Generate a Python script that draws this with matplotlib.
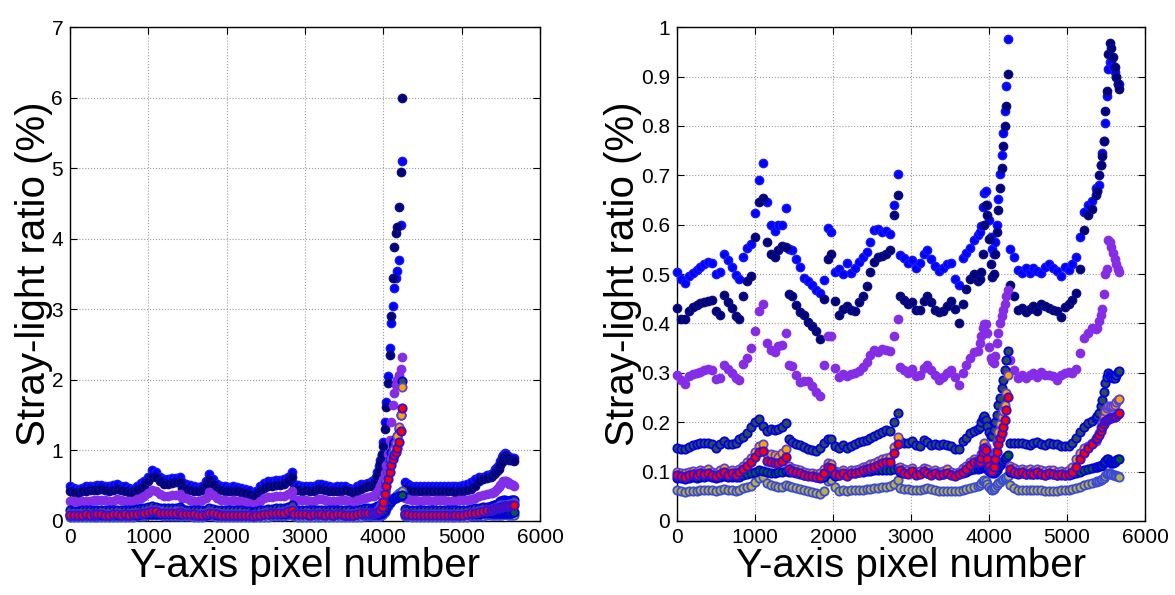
"""
Stray-light ratio along the Y-axis pixel number, two panels.

Left: full range (up to ~6 %), right: zoom on 0-1 %.
Each series is a band of dots; the detector has four segments so the
data have gaps near pixel 1415, 2845 and 4255.
"""

import matplotlib

matplotlib.use("Agg")
import matplotlib.pyplot as plt

plt.rcParams["font.family"] = ["Liberation Sans", "DejaVu Sans"]

# ---------------------------------------------------------------------------
# Sampling positions (pixel number), one list per detector segment.
# Steep parts (3880-4240 and 5390-5670) are sampled more finely.
# ---------------------------------------------------------------------------
SEG_X = [
    list(range(0, 1401, 50)),      # 29
    list(range(1430, 2831, 50)),   # 29
    list(range(2860, 3861, 50)),   # 21
    list(range(3880, 4241, 20)),   # 19
    list(range(4270, 5371, 50)),   # 23
    list(range(5390, 5671, 20)),   # 15
]
PIXEL = [x for seg in SEG_X for x in seg]

# ---------------------------------------------------------------------------
# Right panel (0-1 %)
# ---------------------------------------------------------------------------
R_BLUE = (
    [0.505, 0.490, 0.482, 0.497, 0.503, 0.509, 0.515, 0.520, 0.525, 0.522,
     0.500, 0.505, 0.540, 0.528, 0.515, 0.498, 0.490, 0.535, 0.552, 0.560,
     0.624, 0.690, 0.725, 0.645, 0.600, 0.587, 0.600, 0.600, 0.634]
    + [0.550, 0.548, 0.530, 0.515, 0.493, 0.485, 0.478, 0.468, 0.462, 0.488,
       0.594, 0.585, 0.505, 0.510, 0.500, 0.522, 0.503, 0.512, 0.525, 0.535,
       0.545, 0.565, 0.590, 0.592, 0.585, 0.588, 0.581, 0.640, 0.702]
    + [0.538, 0.532, 0.523, 0.529, 0.512, 0.522, 0.540, 0.548, 0.530, 0.516,
       0.507, 0.512, 0.520, 0.522, 0.490, 0.478, 0.532, 0.543, 0.553, 0.568,
       0.580]
    + [0.585, 0.597, 0.635, 0.665, 0.668, 0.640, 0.610, 0.575, 0.550, 0.540,
       0.565, 0.600, 0.651, 0.703, 0.742, 0.785, 0.830, 0.880, 0.975]
    + [0.550, 0.535, 0.509, 0.503, 0.513, 0.503, 0.513, 0.507, 0.503, 0.515,
       0.520, 0.513, 0.507, 0.497, 0.515, 0.509, 0.520, 0.535, 0.575, 0.625,
       0.640, 0.648, 0.675]
    + [0.668, 0.680, 0.720, 0.745, 0.770, 0.805, 0.860, 0.915, 0.930, 0.930,
       0.920, 0.910, 0.900, 0.885, 0.885]
)
R_NAVY = (
    [0.432, 0.410, 0.408, 0.425, 0.433, 0.438, 0.442, 0.443, 0.445, 0.447,
     0.426, 0.418, 0.458, 0.443, 0.432, 0.415, 0.410, 0.455, 0.485, 0.497,
     0.575, 0.645, 0.655, 0.565, 0.540, 0.535, 0.548, 0.556, 0.555]
    + [0.460, 0.455, 0.438, 0.424, 0.417, 0.402, 0.395, 0.385, 0.368, 0.450,
       0.530, 0.540, 0.445, 0.418, 0.430, 0.435, 0.428, 0.426, 0.444, 0.455,
       0.476, 0.505, 0.525, 0.534, 0.536, 0.540, 0.548, 0.620, 0.660]
    + [0.455, 0.448, 0.440, 0.444, 0.428, 0.428, 0.445, 0.455, 0.443, 0.428,
       0.423, 0.426, 0.436, 0.445, 0.430, 0.400, 0.440, 0.470, 0.490, 0.500,
       0.485]
    + [0.490, 0.505, 0.540, 0.600, 0.640, 0.620, 0.570, 0.520, 0.495, 0.500,
       0.540, 0.585, 0.630, 0.675, 0.715, 0.760, 0.800, 0.840, 0.905]
    + [0.478, 0.455, 0.427, 0.431, 0.423, 0.430, 0.436, 0.426, 0.440, 0.436,
       0.432, 0.428, 0.425, 0.414, 0.434, 0.440, 0.448, 0.462, 0.510, 0.590,
       0.620, 0.632, 0.660]
    + [0.668, 0.700, 0.720, 0.740, 0.770, 0.830, 0.870, 0.945, 0.968, 0.958,
       0.940, 0.920, 0.900, 0.885, 0.875]
)
R_PURPLE = (
    [0.296, 0.285, 0.277, 0.294, 0.298, 0.300, 0.302, 0.305, 0.308, 0.305,
     0.288, 0.290, 0.315, 0.308, 0.300, 0.290, 0.285, 0.318, 0.330, 0.350,
     0.385, 0.425, 0.440, 0.360, 0.347, 0.342, 0.354, 0.357, 0.381]
    + [0.315, 0.313, 0.295, 0.282, 0.283, 0.283, 0.273, 0.262, 0.254, 0.315,
       0.375, 0.375, 0.310, 0.292, 0.298, 0.293, 0.297, 0.300, 0.304, 0.312,
       0.322, 0.336, 0.347, 0.343, 0.348, 0.347, 0.345, 0.375, 0.410]
    + [0.312, 0.305, 0.300, 0.307, 0.294, 0.296, 0.310, 0.315, 0.305, 0.296,
       0.285, 0.292, 0.300, 0.306, 0.292, 0.275, 0.300, 0.315, 0.330, 0.342,
       0.345]
    + [0.360, 0.375, 0.390, 0.398, 0.398, 0.381, 0.352, 0.330, 0.323, 0.320,
       0.335, 0.360, 0.380, 0.400, 0.415, 0.427, 0.440, 0.455, 0.468]
    + [0.325, 0.305, 0.289, 0.296, 0.289, 0.295, 0.299, 0.292, 0.302, 0.295,
       0.296, 0.294, 0.286, 0.295, 0.300, 0.302, 0.299, 0.308, 0.340, 0.370,
       0.380, 0.390, 0.388]
    + [0.390, 0.405, 0.418, 0.430, 0.460, 0.500, 0.510, 0.568, 0.565, 0.555,
       0.542, 0.530, 0.520, 0.510, 0.505]
)
R_SLATE = (
    [0.148, 0.146, 0.145, 0.150, 0.153, 0.155, 0.157, 0.157, 0.158, 0.155,
     0.148, 0.155, 0.162, 0.155, 0.155, 0.158, 0.165, 0.170, 0.178, 0.190,
     0.200, 0.207, 0.192, 0.182, 0.187, 0.185, 0.186, 0.190, 0.198]
    + [0.167, 0.160, 0.155, 0.153, 0.150, 0.146, 0.143, 0.141, 0.148, 0.157,
       0.166, 0.165, 0.152, 0.147, 0.154, 0.148, 0.152, 0.155, 0.160, 0.162,
       0.164, 0.168, 0.172, 0.176, 0.180, 0.184, 0.182, 0.200, 0.218]
    + [0.161, 0.158, 0.157, 0.161, 0.153, 0.152, 0.163, 0.160, 0.154, 0.156,
       0.153, 0.156, 0.154, 0.152, 0.146, 0.145, 0.162, 0.168, 0.178, 0.183,
       0.186]
    + [0.190, 0.200, 0.208, 0.212, 0.205, 0.192, 0.180, 0.172, 0.172, 0.185,
       0.200, 0.215, 0.235, 0.250, 0.270, 0.285, 0.305, 0.325, 0.345]
    + [0.158, 0.157, 0.158, 0.158, 0.155, 0.154, 0.157, 0.159, 0.155, 0.154,
       0.157, 0.156, 0.156, 0.152, 0.151, 0.151, 0.158, 0.168, 0.180, 0.190,
       0.198, 0.203, 0.208]
    + [0.212, 0.218, 0.232, 0.245, 0.262, 0.280, 0.292, 0.299, 0.296, 0.292,
       0.290, 0.290, 0.296, 0.302, 0.303]
)
R_ORANGE = (
    [0.100, 0.097, 0.098, 0.100, 0.102, 0.100, 0.104, 0.102, 0.106, 0.100,
     0.097, 0.103, 0.108, 0.100, 0.103, 0.100, 0.106, 0.112, 0.120, 0.128,
     0.140, 0.152, 0.155, 0.135, 0.135, 0.133, 0.130, 0.138, 0.146]
    + [0.112, 0.108, 0.105, 0.104, 0.100, 0.098, 0.097, 0.095, 0.097, 0.105,
       0.118, 0.115, 0.102, 0.100, 0.103, 0.098, 0.103, 0.104, 0.106, 0.110,
       0.112, 0.115, 0.118, 0.122, 0.126, 0.128, 0.130, 0.150, 0.170]
    + [0.110, 0.105, 0.103, 0.108, 0.100, 0.102, 0.108, 0.105, 0.100, 0.104,
       0.099, 0.102, 0.105, 0.100, 0.097, 0.100, 0.107, 0.112, 0.120, 0.126,
       0.124]
    + [0.125, 0.135, 0.148, 0.157, 0.150, 0.130, 0.118, 0.110, 0.112, 0.125,
       0.140, 0.160, 0.180, 0.197, 0.210, 0.222, 0.235, 0.260, 0.295]
    + [0.112, 0.107, 0.104, 0.106, 0.103, 0.105, 0.102, 0.106, 0.103, 0.101,
       0.104, 0.103, 0.100, 0.102, 0.100, 0.103, 0.110, 0.125, 0.138, 0.148,
       0.152, 0.158, 0.162]
    + [0.170, 0.178, 0.190, 0.198, 0.210, 0.222, 0.228, 0.232, 0.230, 0.232,
       0.232, 0.235, 0.240, 0.245, 0.248]
)
R_RED = (
    [0.094, 0.092, 0.090, 0.094, 0.096, 0.093, 0.097, 0.095, 0.098, 0.094,
     0.091, 0.096, 0.100, 0.094, 0.097, 0.094, 0.099, 0.105, 0.112, 0.120,
     0.130, 0.140, 0.142, 0.122, 0.120, 0.117, 0.117, 0.122, 0.130]
    + [0.105, 0.102, 0.099, 0.097, 0.094, 0.092, 0.091, 0.089, 0.090, 0.098,
       0.110, 0.108, 0.096, 0.094, 0.097, 0.092, 0.097, 0.098, 0.100, 0.103,
       0.105, 0.107, 0.110, 0.113, 0.117, 0.119, 0.120, 0.138, 0.155]
    + [0.103, 0.098, 0.096, 0.101, 0.094, 0.096, 0.101, 0.098, 0.094, 0.098,
       0.093, 0.096, 0.098, 0.094, 0.091, 0.095, 0.100, 0.106, 0.113, 0.120,
       0.120]
    + [0.120, 0.128, 0.140, 0.148, 0.143, 0.125, 0.112, 0.103, 0.102, 0.110,
       0.125, 0.140, 0.155, 0.168, 0.178, 0.190, 0.205, 0.225, 0.252]
    + [0.105, 0.100, 0.097, 0.099, 0.096, 0.098, 0.095, 0.099, 0.096, 0.094,
       0.097, 0.096, 0.093, 0.095, 0.093, 0.096, 0.100, 0.110, 0.125, 0.137,
       0.147, 0.155, 0.165]
    + [0.168, 0.175, 0.182, 0.190, 0.197, 0.202, 0.205, 0.207, 0.208, 0.208,
       0.210, 0.211, 0.213, 0.216, 0.218]
)
R_GREEN = (
    [0.088, 0.087, 0.086, 0.088, 0.089, 0.088, 0.090, 0.089, 0.091, 0.089,
     0.087, 0.090, 0.092, 0.089, 0.090, 0.089, 0.090, 0.093, 0.096, 0.098,
     0.100, 0.103, 0.102, 0.099, 0.098, 0.097, 0.099, 0.100, 0.102]
    + [0.100, 0.099, 0.097, 0.096, 0.094, 0.093, 0.092, 0.090, 0.088, 0.090,
       0.098, 0.097, 0.092, 0.094, 0.096, 0.095, 0.097, 0.098, 0.099, 0.100,
       0.101, 0.102, 0.103, 0.104, 0.104, 0.103, 0.104, 0.106, 0.108]
    + [0.100, 0.098, 0.097, 0.099, 0.096, 0.097, 0.099, 0.098, 0.096, 0.097,
       0.095, 0.096, 0.097, 0.095, 0.094, 0.095, 0.098, 0.100, 0.103, 0.105,
       0.106]
    + [0.107, 0.108, 0.110, 0.110, 0.109, 0.106, 0.102, 0.100, 0.098, 0.097,
       0.099, 0.104, 0.109, 0.114, 0.118, 0.122, 0.126, 0.130, 0.134]
    + [0.100, 0.097, 0.096, 0.097, 0.095, 0.096, 0.095, 0.096, 0.095, 0.094,
       0.095, 0.095, 0.094, 0.093, 0.093, 0.094, 0.095, 0.098, 0.100, 0.103,
       0.105, 0.107, 0.109]
    + [0.110, 0.111, 0.112, 0.114, 0.118, 0.122, 0.125, 0.125, 0.121, 0.118,
       0.117, 0.120, 0.123, 0.125, 0.125]
)
R_YELLOW = (
    [0.062, 0.060, 0.058, 0.060, 0.060, 0.061, 0.063, 0.062, 0.063, 0.062,
     0.060, 0.062, 0.064, 0.063, 0.062, 0.060, 0.062, 0.066, 0.068, 0.070,
     0.078, 0.088, 0.090, 0.076, 0.072, 0.070, 0.068, 0.068, 0.072]
    + [0.070, 0.068, 0.066, 0.064, 0.062, 0.061, 0.059, 0.057, 0.055, 0.060,
       0.080, 0.082, 0.068, 0.060, 0.062, 0.061, 0.062, 0.062, 0.063, 0.063,
       0.064, 0.065, 0.066, 0.066, 0.068, 0.069, 0.070, 0.075, 0.083]
    + [0.067, 0.065, 0.064, 0.063, 0.062, 0.063, 0.065, 0.066, 0.064, 0.063,
       0.061, 0.061, 0.060, 0.061, 0.060, 0.061, 0.063, 0.064, 0.066, 0.068,
       0.071]
    + [0.073, 0.077, 0.080, 0.083, 0.081, 0.075, 0.068, 0.064, 0.063, 0.065,
       0.068, 0.072, 0.076, 0.079, 0.082, 0.085, 0.088, 0.090, 0.092]
    + [0.073, 0.067, 0.063, 0.062, 0.063, 0.063, 0.063, 0.062, 0.062, 0.061,
       0.060, 0.060, 0.061, 0.062, 0.062, 0.063, 0.064, 0.066, 0.069, 0.072,
       0.074, 0.076, 0.079]
    + [0.080, 0.080, 0.082, 0.084, 0.088, 0.092, 0.095, 0.097, 0.097, 0.095,
       0.093, 0.093, 0.092, 0.091, 0.090]
)

# ---------------------------------------------------------------------------
# Left panel (full range)
# ---------------------------------------------------------------------------
L_BLUE = (
    [0.49, 0.47, 0.46, 0.47, 0.49, 0.50, 0.50, 0.51, 0.51, 0.50,
     0.50, 0.51, 0.53, 0.50, 0.49, 0.47, 0.46, 0.50, 0.54, 0.56,
     0.62, 0.72, 0.70, 0.63, 0.60, 0.60, 0.61, 0.61, 0.62]
    + [0.55, 0.53, 0.51, 0.49, 0.48, 0.50, 0.56, 0.66, 0.60, 0.53,
       0.50, 0.49, 0.48, 0.49, 0.48, 0.47, 0.46, 0.44, 0.39, 0.43,
       0.50, 0.54, 0.56, 0.57, 0.58, 0.58, 0.59, 0.63, 0.70]
    + [0.52, 0.51, 0.50, 0.50, 0.49, 0.50, 0.52, 0.53, 0.51, 0.49,
       0.48, 0.49, 0.50, 0.50, 0.47, 0.46, 0.50, 0.52, 0.53, 0.54,
       0.56]
    + [0.58, 0.62, 0.70, 0.78, 0.86, 0.95, 1.12, 1.40, 1.68, 2.05,
       2.45, 2.80, 3.05, 3.30, 3.45, 3.55, 3.70, 4.20, 5.10]
    + [0.55, 0.52, 0.50, 0.50, 0.50, 0.49, 0.50, 0.50, 0.49, 0.50,
       0.50, 0.50, 0.49, 0.49, 0.50, 0.51, 0.52, 0.55, 0.59, 0.62,
       0.63, 0.65, 0.66]
    + [0.67, 0.70, 0.73, 0.76, 0.80, 0.85, 0.90, 0.94, 0.96, 0.95,
       0.92, 0.90, 0.89, 0.89, 0.89]
)
L_NAVY = (
    [0.43, 0.41, 0.40, 0.42, 0.43, 0.44, 0.44, 0.44, 0.45, 0.44,
     0.43, 0.44, 0.46, 0.44, 0.43, 0.41, 0.41, 0.44, 0.47, 0.50,
     0.56, 0.63, 0.62, 0.56, 0.53, 0.53, 0.54, 0.55, 0.55]
    + [0.47, 0.46, 0.44, 0.43, 0.42, 0.44, 0.49, 0.58, 0.53, 0.46,
       0.44, 0.43, 0.42, 0.43, 0.42, 0.41, 0.40, 0.38, 0.34, 0.37,
       0.43, 0.47, 0.49, 0.50, 0.51, 0.51, 0.52, 0.56, 0.62]
    + [0.45, 0.44, 0.43, 0.44, 0.42, 0.43, 0.45, 0.46, 0.44, 0.42,
       0.42, 0.42, 0.43, 0.44, 0.42, 0.40, 0.43, 0.46, 0.48, 0.49,
       0.50]
    + [0.53, 0.57, 0.64, 0.72, 0.82, 0.93, 1.06, 1.30, 1.62, 1.95,
       2.35, 2.90, 3.45, 3.88, 4.08, 4.17, 4.45, 4.95, 6.00]
    + [0.46, 0.44, 0.42, 0.42, 0.42, 0.42, 0.43, 0.42, 0.43, 0.43,
       0.43, 0.42, 0.42, 0.41, 0.42, 0.43, 0.44, 0.45, 0.50, 0.56,
       0.59, 0.61, 0.63]
    + [0.64, 0.66, 0.68, 0.71, 0.74, 0.79, 0.84, 0.89, 0.92, 0.91,
       0.89, 0.87, 0.86, 0.86, 0.85]
)
L_PURPLE = (
    [0.29, 0.28, 0.27, 0.28, 0.29, 0.29, 0.30, 0.30, 0.30, 0.30,
     0.29, 0.29, 0.31, 0.30, 0.29, 0.28, 0.28, 0.31, 0.33, 0.35,
     0.39, 0.44, 0.43, 0.38, 0.36, 0.36, 0.37, 0.37, 0.38]
    + [0.33, 0.32, 0.30, 0.29, 0.29, 0.30, 0.33, 0.41, 0.37, 0.32,
       0.30, 0.30, 0.29, 0.30, 0.29, 0.28, 0.27, 0.25, 0.22, 0.24,
       0.29, 0.32, 0.34, 0.34, 0.35, 0.35, 0.35, 0.38, 0.42]
    + [0.31, 0.30, 0.30, 0.30, 0.29, 0.29, 0.31, 0.31, 0.30, 0.29,
       0.29, 0.29, 0.30, 0.30, 0.29, 0.27, 0.30, 0.31, 0.33, 0.34,
       0.35]
    + [0.36, 0.38, 0.41, 0.45, 0.50, 0.55, 0.60, 0.68, 0.80, 0.95,
       1.15, 1.40, 1.64, 1.82, 1.93, 2.00, 2.07, 2.15, 2.33]
    + [0.32, 0.31, 0.30, 0.30, 0.29, 0.30, 0.30, 0.29, 0.30, 0.30,
       0.30, 0.29, 0.29, 0.29, 0.30, 0.30, 0.30, 0.31, 0.33, 0.36,
       0.37, 0.38, 0.39]
    + [0.40, 0.41, 0.43, 0.45, 0.48, 0.51, 0.54, 0.56, 0.57, 0.56,
       0.55, 0.53, 0.52, 0.51, 0.50]
)
L_SLATE = (
    [0.15, 0.14, 0.14, 0.15, 0.15, 0.15, 0.16, 0.16, 0.16, 0.15,
     0.15, 0.15, 0.16, 0.15, 0.15, 0.15, 0.16, 0.17, 0.18, 0.19,
     0.20, 0.21, 0.20, 0.19, 0.18, 0.18, 0.19, 0.19, 0.20]
    + [0.17, 0.16, 0.16, 0.15, 0.15, 0.15, 0.16, 0.18, 0.17, 0.16,
       0.15, 0.15, 0.15, 0.15, 0.15, 0.15, 0.14, 0.14, 0.13, 0.14,
       0.15, 0.16, 0.17, 0.17, 0.18, 0.18, 0.18, 0.20, 0.22]
    + [0.16, 0.16, 0.16, 0.16, 0.15, 0.15, 0.16, 0.16, 0.15, 0.15,
       0.15, 0.15, 0.15, 0.15, 0.15, 0.14, 0.16, 0.17, 0.18, 0.18,
       0.19]
    + [0.19, 0.20, 0.21, 0.21, 0.22, 0.26, 0.32, 0.42, 0.55, 0.70,
       0.86, 0.98, 1.06, 1.12, 1.16, 1.20, 1.30, 1.50, 1.98]
    + [0.17, 0.16, 0.16, 0.16, 0.16, 0.15, 0.16, 0.16, 0.16, 0.15,
       0.16, 0.16, 0.16, 0.15, 0.15, 0.15, 0.16, 0.17, 0.18, 0.19,
       0.20, 0.20, 0.21]
    + [0.21, 0.22, 0.23, 0.24, 0.26, 0.28, 0.29, 0.30, 0.30, 0.29,
       0.29, 0.29, 0.30, 0.30, 0.30]
)
L_ORANGE = (
    [0.10, 0.10, 0.10, 0.10, 0.10, 0.10, 0.10, 0.10, 0.11, 0.10,
     0.10, 0.10, 0.11, 0.10, 0.10, 0.10, 0.11, 0.11, 0.12, 0.13,
     0.14, 0.15, 0.15, 0.14, 0.13, 0.13, 0.13, 0.14, 0.14]
    + [0.11, 0.11, 0.10, 0.10, 0.10, 0.10, 0.11, 0.13, 0.12, 0.11,
       0.10, 0.10, 0.10, 0.10, 0.10, 0.10, 0.10, 0.09, 0.08, 0.09,
       0.10, 0.11, 0.11, 0.12, 0.12, 0.13, 0.13, 0.15, 0.17]
    + [0.11, 0.10, 0.10, 0.11, 0.10, 0.10, 0.11, 0.10, 0.10, 0.10,
       0.10, 0.10, 0.10, 0.10, 0.10, 0.10, 0.11, 0.11, 0.12, 0.12,
       0.12]
    + [0.12, 0.13, 0.14, 0.16, 0.20, 0.26, 0.35, 0.46, 0.58, 0.70,
       0.80, 0.88, 0.95, 1.02, 1.10, 1.20, 1.33, 1.50, 1.90]
    + [0.11, 0.10, 0.10, 0.10, 0.10, 0.10, 0.10, 0.10, 0.10, 0.10,
       0.10, 0.10, 0.10, 0.10, 0.10, 0.10, 0.11, 0.12, 0.13, 0.14,
       0.15, 0.16, 0.16]
    + [0.17, 0.18, 0.19, 0.20, 0.21, 0.22, 0.23, 0.23, 0.23, 0.23,
       0.23, 0.24, 0.24, 0.25, 0.25]
)
L_RED = (
    [0.09, 0.09, 0.09, 0.09, 0.10, 0.09, 0.10, 0.10, 0.10, 0.09,
     0.09, 0.10, 0.10, 0.09, 0.10, 0.09, 0.10, 0.10, 0.11, 0.12,
     0.13, 0.14, 0.14, 0.12, 0.12, 0.12, 0.12, 0.12, 0.13]
    + [0.10, 0.10, 0.10, 0.10, 0.09, 0.09, 0.10, 0.12, 0.11, 0.10,
       0.09, 0.09, 0.09, 0.09, 0.09, 0.09, 0.09, 0.08, 0.07, 0.08,
       0.09, 0.10, 0.10, 0.11, 0.11, 0.12, 0.12, 0.14, 0.16]
    + [0.10, 0.10, 0.10, 0.10, 0.09, 0.10, 0.10, 0.10, 0.09, 0.10,
       0.09, 0.10, 0.10, 0.09, 0.09, 0.09, 0.10, 0.11, 0.11, 0.12,
       0.12]
    + [0.11, 0.12, 0.13, 0.14, 0.16, 0.20, 0.27, 0.38, 0.50, 0.60,
       0.70, 0.80, 0.88, 0.93, 0.98, 1.03, 1.12, 1.27, 1.60]
    + [0.10, 0.10, 0.09, 0.09, 0.09, 0.09, 0.09, 0.09, 0.09, 0.09,
       0.09, 0.09, 0.09, 0.09, 0.09, 0.09, 0.10, 0.11, 0.12, 0.13,
       0.14, 0.15, 0.16]
    + [0.16, 0.17, 0.18, 0.19, 0.19, 0.20, 0.20, 0.21, 0.21, 0.21,
       0.21, 0.21, 0.22, 0.22, 0.22]
)
L_GREEN = (
    [0.09, 0.09, 0.09, 0.09, 0.09, 0.09, 0.09, 0.09, 0.09, 0.09,
     0.09, 0.09, 0.09, 0.09, 0.09, 0.09, 0.09, 0.09, 0.10, 0.10,
     0.10, 0.10, 0.10, 0.10, 0.10, 0.10, 0.10, 0.10, 0.10]
    + [0.10, 0.10, 0.10, 0.09, 0.09, 0.09, 0.09, 0.10, 0.10, 0.09,
       0.09, 0.09, 0.09, 0.09, 0.09, 0.09, 0.09, 0.09, 0.08, 0.09,
       0.09, 0.10, 0.10, 0.10, 0.10, 0.10, 0.10, 0.11, 0.11]
    + [0.10, 0.10, 0.10, 0.10, 0.10, 0.10, 0.10, 0.10, 0.10, 0.10,
       0.09, 0.10, 0.10, 0.09, 0.09, 0.09, 0.10, 0.10, 0.10, 0.10,
       0.10]
    + [0.10, 0.10, 0.10, 0.10, 0.10, 0.11, 0.13, 0.16, 0.20, 0.24,
       0.27, 0.29, 0.31, 0.32, 0.33, 0.34, 0.35, 0.36, 0.37]
    + [0.10, 0.10, 0.10, 0.10, 0.10, 0.10, 0.10, 0.10, 0.10, 0.10,
       0.10, 0.10, 0.10, 0.10, 0.09, 0.10, 0.10, 0.10, 0.10, 0.10,
       0.11, 0.11, 0.11]
    + [0.11, 0.11, 0.11, 0.11, 0.12, 0.12, 0.12, 0.12, 0.12, 0.12,
       0.12, 0.12, 0.12, 0.13, 0.13]
)
L_YELLOW = (
    [0.06, 0.06, 0.06, 0.06, 0.06, 0.06, 0.06, 0.06, 0.06, 0.06,
     0.06, 0.06, 0.06, 0.06, 0.06, 0.06, 0.06, 0.07, 0.07, 0.07,
     0.08, 0.09, 0.09, 0.08, 0.07, 0.07, 0.07, 0.07, 0.07]
    + [0.07, 0.07, 0.07, 0.06, 0.06, 0.06, 0.07, 0.08, 0.07, 0.06,
       0.06, 0.06, 0.06, 0.06, 0.06, 0.06, 0.06, 0.05, 0.05, 0.05,
       0.06, 0.06, 0.06, 0.07, 0.07, 0.07, 0.07, 0.08, 0.08]
    + [0.07, 0.06, 0.06, 0.06, 0.06, 0.06, 0.06, 0.06, 0.06, 0.06,
       0.06, 0.06, 0.06, 0.06, 0.06, 0.06, 0.06, 0.06, 0.07, 0.07,
       0.07]
    + [0.07, 0.07, 0.07, 0.07, 0.07, 0.08, 0.10, 0.13, 0.17, 0.21,
       0.25, 0.28, 0.31, 0.33, 0.35, 0.37, 0.39, 0.41, 0.43]
    + [0.07, 0.07, 0.06, 0.06, 0.06, 0.06, 0.06, 0.06, 0.06, 0.06,
       0.06, 0.06, 0.06, 0.06, 0.06, 0.06, 0.06, 0.07, 0.07, 0.07,
       0.07, 0.08, 0.08]
    + [0.08, 0.08, 0.08, 0.08, 0.09, 0.09, 0.09, 0.10, 0.10, 0.10,
       0.09, 0.09, 0.09, 0.09, 0.09]
)

# (face colour, edge colour, edge width) per series
STYLES = {
    "blue":   ("#0000ff", "#1818ff", 1.0),
    "navy":   ("#00007a", "#0c0c88", 1.0),
    "purple": ("#8a2be2", "#8030ec", 1.0),
    "slate":  ("#2f4f4f", "#0000e8", 1.3),
    "green":  ("#006030", "#0000d8", 1.3),
    "yellow": ("#b8b040", "#3a4ad8", 1.3),
    "orange": ("#ffa500", "#5a40d8", 1.3),
    "red":    ("#ff0000", "#3a10d0", 1.4),
}
# drawing order (later on top)
ORDER = ["blue", "navy", "purple", "slate", "yellow", "green", "orange", "red"]

LEFT = {"blue": L_BLUE, "navy": L_NAVY, "purple": L_PURPLE, "slate": L_SLATE,
        "green": L_GREEN, "yellow": L_YELLOW, "red": L_RED, "orange": L_ORANGE}
RIGHT = {"blue": R_BLUE, "navy": R_NAVY, "purple": R_PURPLE, "slate": R_SLATE,
         "green": R_GREEN, "yellow": R_YELLOW, "red": R_RED, "orange": R_ORANGE}

X_TICKS = [0, 1000, 2000, 3000, 4000, 5000, 6000]
L_YTICKS = [0, 1, 2, 3, 4, 5, 6, 7]
R_YTICKS = [0, 0.1, 0.2, 0.3, 0.4, 0.5, 0.6, 0.7, 0.8, 0.9, 1]


def _panel(ax, series, yticks):
    for name in ORDER:
        ys = series[name]
        if len(ys) != len(PIXEL):
            raise SystemExit(f"{name}: {len(ys)} values, expected {len(PIXEL)}")
        face, edge, ew = STYLES[name]
        ax.plot(PIXEL, ys, linestyle="none", marker="o", ms=6.0,
                mfc=face, mec=edge, mew=ew, clip_on=False, zorder=3)

    ax.set_xlim(0, 6000)
    ax.set_ylim(yticks[0], yticks[-1])
    ax.set_xticks(X_TICKS)
    ax.set_yticks(yticks)
    ax.set_yticklabels([f"{v:g}" for v in yticks])
    ax.grid(True, linestyle=":", color="#9a9a9a", linewidth=0.8)
    ax.set_axisbelow(True)
    ax.tick_params(direction="in", top=True, right=True, length=5,
                   width=0.8, labelsize=15, pad=5)
    for sp in ax.spines.values():
        sp.set_linewidth(1.0)
    ax.set_xlabel("Y-axis pixel number", fontsize=29, labelpad=0)
    ax.set_ylabel("Stray-light ratio (%)", fontsize=29, labelpad=-1)


def main():
    fig = plt.figure(figsize=(11.75, 5.95), dpi=100)
    ax_l = fig.add_axes([0.0596, 0.1244, 0.400, 0.830])
    ax_r = fig.add_axes([0.5762, 0.1244, 0.3983, 0.830])
    _panel(ax_l, LEFT, L_YTICKS)
    _panel(ax_r, RIGHT, R_YTICKS)
    fig.savefig("out.png", dpi=100)
    plt.close(fig)


if __name__ == "__main__":
    main()
